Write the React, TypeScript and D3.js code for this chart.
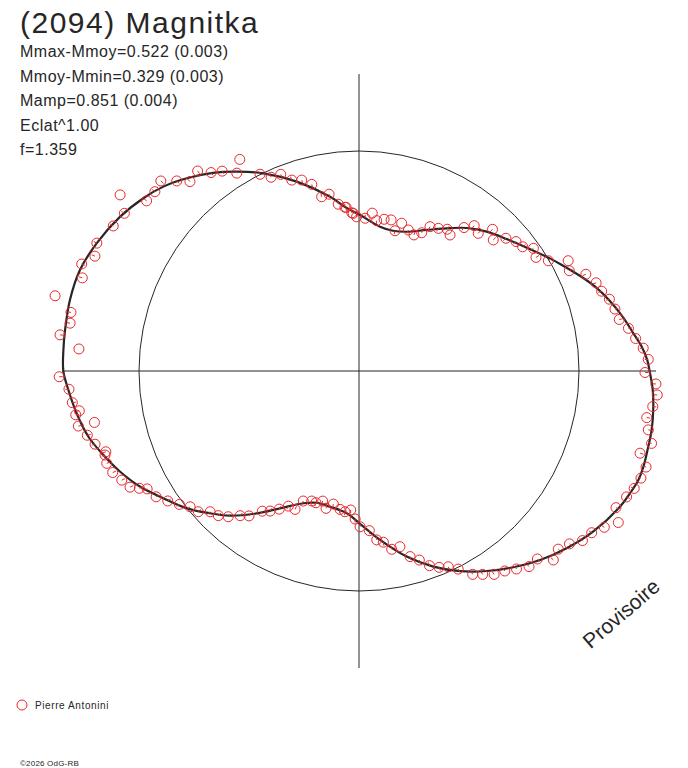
import React from 'react';
import * as d3 from 'd3';

// model lightcurve in polar form: phase angle (deg, counter-clockwise from right) and relative radius (mean = 100)
const curveAngle = [
  0, 2.2, 4.9, 7.8, 11.6, 15.8, 19.8, 22.8, 27.8, 30.2, 36.3, 41.8, 47.5, 53.0, 57.5, 64.4, 71.1, 76.4, 81.7,
  89.6, 94.3, 99.4, 108.2, 115.8, 121.5, 126.4, 131.8, 136.7, 141.3, 147.2, 154.0, 160.1, 166.2, 172.1,
  175.9, 180, 183.7, 188.5, 193.6, 198.2, 202.8, 207.8, 213.0, 218.6, 223.7, 228.3, 234.3, 240.1, 247.2,
  252.2, 257.9, 265.1, 270.4, 277.1, 284.4, 290.8, 296.8, 302.6, 308.2, 313.8, 319.5, 325.6, 332.5, 335.7,
  338.7, 341.4, 345.3, 348.6, 352.5, 356.3,
];
const curveRadius = [
  132.1, 131.1, 129.0, 125.9, 122.4, 118.2, 113.8, 110.0, 103.8, 101.1, 94.7, 90.0, 85.9, 81.4, 77.0, 71.1,
  66.9, 65.6, 66.3, 70.9, 74.3, 80.3, 90.6, 99.8, 106.3, 111.9, 117.5, 122.2, 125.6, 129.3, 132.6, 134.9,
  135.3, 134.9, 134.7, 134.4, 132.4, 129.8, 126.6, 122.3, 117.9, 112.6, 106.1, 100.1, 93.6, 88.1, 79.7, 72.0,
  65.2, 62.9, 63.1, 64.9, 69.5, 77.4, 87.1, 95.1, 101.9, 107.9, 113.5, 119.0, 124.1, 129.1, 133.7, 135.1,
  136.3, 136.4, 135.9, 135.7, 134.9, 133.8,
];

// observations (Pierre Antonini)
const obsAngle = [
  119.4, 128.9, 126.7, 124.4, 121.7, 116.7, 114.4, 111.7, 109.4, 106.7, 104.2, 102.1, 99.6, 97.1, 94.5,
  92.6, 90.9, 131.75, 133.8, 136.2, 138.7, 141.3, 143.6, 146.1, 149.45, 154.0, 156.5, 158.9, 161.4, 166.1,
  168.5, 170.6, 173.1, 175.5, 181.1, 183.6, 94.9, 92.1, 87.7, 85.2, 83.3, 80.6, 78.0, 75.6, 73.9, 70.7,
  68.0, 65.6, 63.8, 60.9, 58.1, 56.2, 53.8, 51.6, 49.1, 46.7, 44.3, 42.1, 39.5, 37.2, 35.1, 32.7, 30.2,
  27.8, 25.5, 23.1, 20.4, 18.2, 16.0, 13.6, 11.2, 9.0, 6.7, 4.6, 2.3, 359.7, 357.5, 355.4, 186.3, 188.1,
  188.8, 191.0, 191.1, 193.3, 195.5, 197.7, 198.3, 200.1, 202.4, 204.7, 206.9, 208.1, 209.1, 211.8, 214.2,
  216.6, 218.8, 221.2, 223.4, 225.8, 228.1, 230.6, 232.8, 235.4, 237.6, 240.0, 242.4, 245.2, 246.8, 250.0,
  251.9, 254.4, 256.5, 259.1, 262.2, 264.3, 266.6, 268.5, 270.4, 273.7, 276.0, 278.1, 280.4, 283.1, 285.4,
  287.7, 289.9, 292.2, 294.5, 296.6, 299.2, 301.3, 303.6, 306.1, 308.5, 311.0, 313.5, 315.8, 318.2, 320.6,
  322.8, 325.2, 327.5, 329.7, 332.0, 334.8, 336.9, 339.2, 341.5, 343.7, 346.1, 348.5, 350.8, 353.1,
];
const obsRadius = [
  110.4, 116.8, 112.5, 110.1, 105.7, 100.1, 96.7, 96.2, 92.0, 90.6, 87.5, 81.0, 81.5, 76.4, 74.6, 72.0,
  70.1, 115.4, 119.7, 124.8, 123.5, 123.7, 134.9, 128.5, 129.7, 132.6, 130.9, 135.1, 132.7, 142.3, 133.6,
  133.1, 136.9, 127.7, 136.3, 132.1, 74.7, 71.7, 69.5, 72.0, 68.8, 69.9, 70.2, 65.8, 69.9, 67.9, 66.7, 69.0,
  73.1, 74.2, 75.9, 74.4, 80.8, 84.3, 82.8, 88.5, 85.3, 90.0, 92.5, 93.4, 96.9, 95.6, 99.6, 107.5, 105.9,
  112.1, 115.0, 116.1, 118.4, 119.7, 120.6, 124.0, 126.6, 129.6, 131.6, 130.0, 135.1, 136.0, 131.1, 128.4,
  130.3, 122.5, 130.0, 126.9, 124.5, 120.8, 121.6, 122.1, 121.1, 118.7, 116.7, 113.2, 110.2, 108.5, 105.1,
  101.7, 98.5, 97.1, 93.1, 91.7, 89.0, 85.1, 82.7, 77.4, 75.4, 72.5, 69.3, 69.3, 64.3, 62.9, 63.0, 61.4,
  64.2, 61.6, 63.5, 64.3, 63.3, 67.3, 70.8, 72.7, 77.2, 78.6, 82.4, 82.0, 87.5, 90.2, 94.1, 96.4, 97.8,
  100.7, 105.9, 108.2, 111.0, 112.5, 115.0, 117.8, 117.8, 123.2, 121.5, 123.8, 127.5, 128.8, 132.2, 136.5,
  132.3, 134.4, 136.0, 137.1, 137.6, 133.1, 137.0, 134.2, 132.5, 134.5,
];

const title = '(2094) Magnitka';
const statLines = [
  'Mmax-Mmoy=0.522 (0.003)',
  'Mmoy-Mmin=0.329 (0.003)',
  'Mamp=0.851 (0.004)',
  'Eclat^1.00',
  'f=1.359',
];
const observer = 'Pierre Antonini';
const stamp = 'Provisoire';
const copyright = '\u00a92026 OdG-RB';

const width = 688;
const height = 768;
const cx = 359;
const cy = 371;
const red = '#e8282c';
const ink = '#262626';

const r = d3.scaleLinear().domain([0, 100]).range([0, 220]);
const axisExtent = 135;

const toRad = (deg: number) => ((90 - deg) * Math.PI) / 180;

// model radius at a given angle, linear between the traced points
const modelAt = (a: number) => {
  const n = curveAngle.length;
  for (let i = 0; i < n; i++) {
    const a0 = curveAngle[i];
    const a1 = i + 1 < n ? curveAngle[i + 1] : curveAngle[0] + 360;
    const r1 = i + 1 < n ? curveRadius[i + 1] : curveRadius[0];
    if (a >= a0 && a <= a1) {
      const t = (a - a0) / (a1 - a0);
      return curveRadius[i] + t * (r1 - curveRadius[i]);
    }
  }
  return curveRadius[0];
};

const App = () => {
  const curvePts = curveAngle.map((a, i) => [toRad(a), curveRadius[i]] as [number, number]);
  const line = d3
    .lineRadial<[number, number]>()
    .angle((d) => d[0])
    .radius((d) => r(d[1]))
    .curve(d3.curveCatmullRomClosed.alpha(0.5));

  const points = obsAngle.map((a, i) => {
    const th = (a * Math.PI) / 180;
    const rr = r(obsRadius[i]);
    const rm = r(modelAt(a));
    const res = rm - rr;
    const x = cx + rr * Math.cos(th);
    const y = cy - rr * Math.sin(th);
    const len = Math.abs(res) < 7 ? 3.5 * Math.sign(res || 1) : 0;
    return { x, y, tx: x + len * Math.cos(th), ty: y - len * Math.sin(th), tick: len !== 0 };
  });

  const ext = r(axisExtent);

  return (
    <svg
      width={width}
      height={height}
      style={{ position: 'absolute', left: 0, top: 0, background: '#fff' }}
      fontFamily="'Liberation Sans', Arial, sans-serif"
    >
      <rect width={width} height={height} fill="#fff" />
      <text x={20} y={33} fontSize={30} letterSpacing={1.5} fill={ink}>
        {title}
      </text>
      {statLines.map((s, i) => (
        <text key={s} x={20} y={57 + i * 24.5} fontSize={16} letterSpacing={0.5} fill={ink}>
          {s}
        </text>
      ))}

      <g transform={`translate(${cx},${cy})`}>
        <line x1={-ext} x2={ext} y1={0} y2={0} stroke={ink} strokeWidth={1} />
        <line x1={0} x2={0} y1={-ext} y2={ext} stroke={ink} strokeWidth={1} />
        <circle r={r(100)} fill="none" stroke={ink} strokeWidth={1} />
        <path d={line(curvePts) || ''} fill="none" stroke={ink} strokeWidth={2.2} />
      </g>

      {points.map((p, i) => (
        <g key={i}>
          <circle cx={p.x} cy={p.y} r={5} fill="none" stroke={red} strokeWidth={1} />
          {p.tick && <line x1={p.x} y1={p.y} x2={p.tx} y2={p.ty} stroke={red} strokeWidth={1} />}
        </g>
      ))}

      <text
        x={626}
        y={619}
        fontSize={21}
        textAnchor="middle"
        fill={ink}
        transform="rotate(-40.6 626 619)"
      >
        {stamp}
      </text>

      <circle cx={22} cy={705} r={5} fill="none" stroke={red} strokeWidth={1} />
      <text x={35} y={709} fontSize={10} letterSpacing={0.6} fill={ink}>
        {observer}
      </text>
      <text x={20} y={766} fontSize={8} letterSpacing={0.2} fill={ink}>
        {copyright}
      </text>
    </svg>
  );
};

export default App;
